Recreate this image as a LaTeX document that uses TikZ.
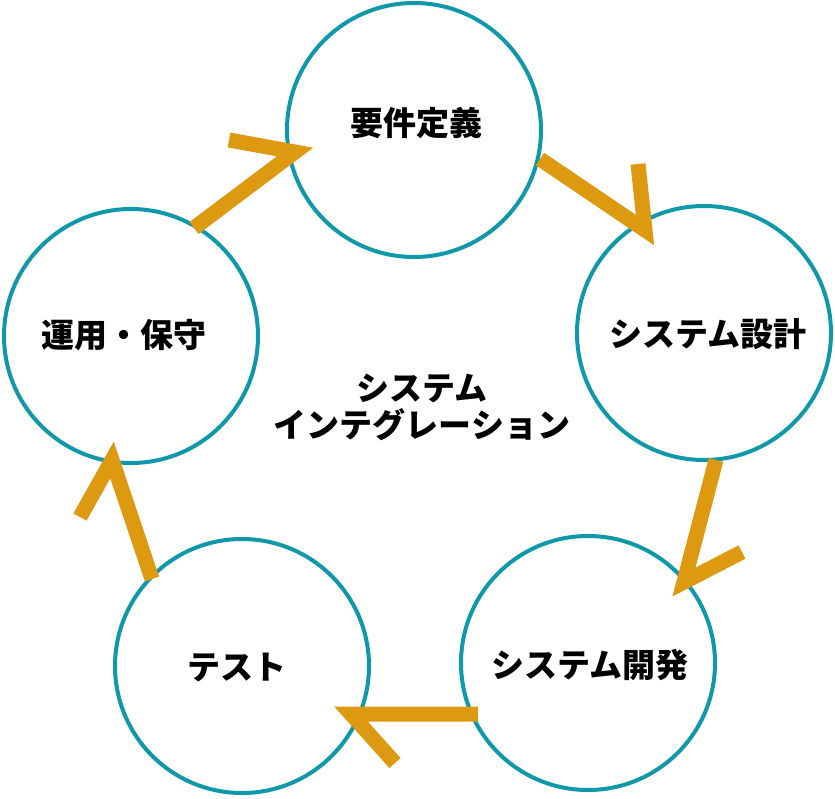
\documentclass[tikz,border=0pt]{standalone}
\usepackage{fontspec}
\newfontfamily\jp{Noto Sans CJK JP}
\definecolor{teal1}{HTML}{0F98A9}
\definecolor{gold1}{HTML}{DD9A11}
\begin{document}
\begin{tikzpicture}[x=1pt,y=-1pt,
  circ/.style={circle,draw=teal1,line width=4pt,minimum size=254pt,inner sep=0pt},
  lbl/.style={font=\jp\bfseries\fontsize{33pt}{37pt}\selectfont,inner sep=0pt,align=center},
  harp/.style={draw=gold1,line width=15pt,line join=miter,line cap=butt,miter limit=10}]
\useasboundingbox (0,0) rectangle (835,798);
\node[circ] (c1) at (414,130) {};
\node[circ] (c2) at (704,333) {};
\node[circ] (c3) at (588,663) {};
\node[circ] (c4) at (242,666) {};
\node[circ] (c5) at (131,336) {};
\node[lbl] (t1) at (416,123) {要件定義};
\node[lbl] (t2) at (708,334) {システム設計};
\node[lbl] (t3) at (590,665) {システム開発};
\node[lbl] (t4) at (237,668) {テスト};
\node[lbl] (t5) at (124,335) {運用・保守};
\node[lbl] (tc) at (422,407) {システム\\インテグレーション};
% arrow 1: top -> right
\coordinate (a1s) at (540,159);
\coordinate (a1c) at (645,230);
\coordinate (a1b) at (638,164);
\draw[harp] (a1s) -- (a1c) -- (a1b);
% arrow 2: right -> bottom right
\coordinate (a2s) at (716,460);
\coordinate (a2c) at (684,582);
\coordinate (a2b) at (742,552);
\draw[harp] (a2s) -- (a2c) -- (a2b);
% arrow 3: bottom right -> bottom left
\coordinate (a3s) at (478,714);
\coordinate (a3c) at (351,714);
\coordinate (a3b) at (395,763);
\draw[harp] (a3s) -- (a3c) -- (a3b);
% arrow 4: bottom left -> left
\coordinate (a4s) at (152,579);
\coordinate (a4c) at (112,460);
\coordinate (a4b) at (80,517);
\draw[harp] (a4s) -- (a4c) -- (a4b);
% arrow 5: left -> top
\coordinate (a5s) at (194,228);
\coordinate (a5c) at (295,152);
\coordinate (a5b) at (229,140);
\draw[harp] (a5s) -- (a5c) -- (a5b);
\end{tikzpicture}
\end{document}
